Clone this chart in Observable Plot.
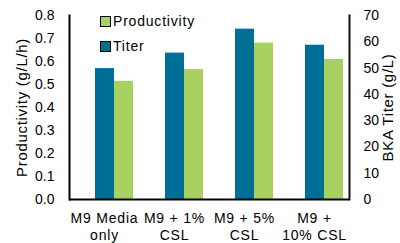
<!DOCTYPE html>
<html>
<head>
<meta charset="utf-8">
<script src="https://cdn.jsdelivr.net/npm/d3@7"></script>
<script src="https://cdn.jsdelivr.net/npm/@observablehq/plot@0.6"></script>
<style>
  html, body { margin: 0; padding: 0; background: #fff; }
  #wrap { position: relative; width: 400px; height: 243px; font-family: "Liberation Sans", Arial, sans-serif; }
  .leg { position: absolute; left: 100px; font-size: 14px; letter-spacing: 0.8px; color: #000; display: flex; align-items: center; }
  .sw { width: 9px; height: 9px; border: 1px solid #000; margin-right: 2px; }
</style>
</head>
<body>
<div id="wrap"></div>
<script>
const categories = ["M9 Media\nonly", "M9 + 1%\nCSL", "M9 + 5%\nCSL", "M9 +\n10% CSL"];
const series = ["Titer", "Productivity"];
const titer = [49.8, 55.7, 64.8, 58.7];          // g/L, right axis
const productivity = [0.514, 0.565, 0.68, 0.609]; // g/L/h, left axis
const prodTicks = [0, 0.1, 0.2, 0.3, 0.4, 0.5, 0.6, 0.7, 0.8];
const titerTicks = [0, 10, 20, 30, 40, 50, 60, 70];
const leftTitle = "Productivity (g/L/h)";
const rightTitle = "BKA Titer (g/L)";
const colors = ["#006f96", "#a9d162"];

const prodMax = 0.8, titerMax = 70;
const k = prodMax / titerMax;

const rows = [];
categories.forEach((c, i) => {
  rows.push({cat: c, series: "Titer", v: titer[i] * k});
  rows.push({cat: c, series: "Productivity", v: productivity[i]});
});

const chart = Plot.plot({
  width: 400,
  height: 243,
  marginLeft: 68,
  marginRight: 50,
  marginTop: 15,
  marginBottom: 44,
  style: {fontFamily: "Liberation Sans, Arial, sans-serif", fontSize: "14px", color: "#000", background: "#fff"},
  fx: {domain: categories, padding: 0, label: null},
  x: {domain: series, paddingInner: 0, paddingOuter: 0.808, align: 0.825, axis: null},
  y: {domain: [0, prodMax]},
  color: {domain: series, range: colors},
  marks: [
    Plot.barY(rows, {fx: "cat", x: "series", y: "v", fill: "series"}),
    Plot.ruleY([0], {stroke: "#000", strokeWidth: 2}),
    Plot.frame({anchor: "left", facetAnchor: "left", stroke: "#000", strokeWidth: 2}),
    Plot.frame({anchor: "right", facetAnchor: "right", stroke: "#111", strokeWidth: 2}),
    Plot.axisY({anchor: "left", ticks: prodTicks, tickFormat: d3.format(".1f"), tickSize: 0, tickPadding: 15, fontSize: 14,
      label: leftTitle, labelAnchor: "center", labelArrow: "none", labelOffset: 53}),
    Plot.axisY({anchor: "right", ticks: titerTicks.map(t => t * k), tickFormat: t => String(Math.round(t / k)), tickSize: 0, tickPadding: 14,
      textAnchor: "start", fontSize: 14,
      label: rightTitle, labelAnchor: "center", labelArrow: "none", labelOffset: 43}),
    Plot.axisFx({anchor: "bottom", tickSize: 0, tickPadding: 12, fontSize: 14, label: null, lineHeight: 1.2})
  ]
});

// styling of titles and category labels (wider letter spacing as in the reference)
chart.querySelectorAll("text").forEach(t => {
  const s = t.textContent;
  if (s === leftTitle || s === rightTitle) {
    t.setAttribute("font-size", "15");
    t.style.fontSize = "15px";
    t.style.letterSpacing = "0.7px";
  } else if (categories.some(c => c.replace("\n", "") === s.replace(/\s*\n\s*/g, "") || c.split("\n").includes(s))) {
    t.style.letterSpacing = "0.8px";
  }
});
chart.querySelectorAll("tspan").forEach(t => {
  if (categories.some(c => c.split("\n").includes(t.textContent))) t.style.letterSpacing = "0.8px";
});

const wrap = document.getElementById("wrap");
wrap.appendChild(chart);
const legendItems = [{name: "Productivity", color: colors[1], top: 13}, {name: "Titer", color: colors[0], top: 38}];
legendItems.forEach(it => {
  const d = document.createElement("div");
  d.className = "leg";
  d.style.top = it.top + "px";
  d.innerHTML = `<span class="sw" style="background:${it.color}"></span><span>${it.name}</span>`;
  wrap.appendChild(d);
});
</script>
</body>
</html>
